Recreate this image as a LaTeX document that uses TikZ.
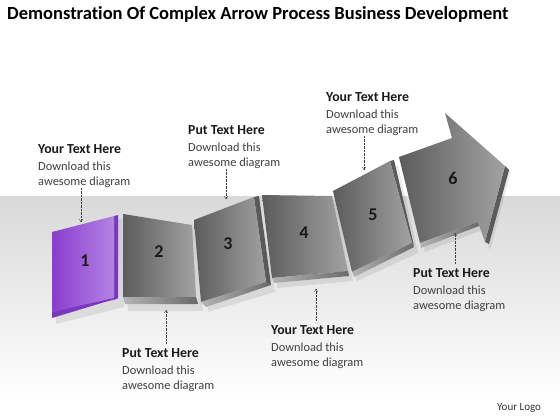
\documentclass[tikz,border=0pt]{standalone}
\usepackage{fontspec}
\setmainfont[Ligatures=NoCommon]{Carlito}
\usetikzlibrary{arrows.meta}
\definecolor{panelL}{HTML}{5C5C5C}
\definecolor{panelR}{HTML}{A2A2A2}
\definecolor{edgeL}{HTML}{B4B4B4}
\definecolor{edgeR}{HTML}{6A6A6A}
\definecolor{violetL}{HTML}{8A3DD0}
\definecolor{violetR}{HTML}{B383E3}
\definecolor{violetD}{HTML}{7A38BC}
\definecolor{bodytext}{HTML}{404040}
\tikzset{
  face/.style={left color=panelL, right color=panelR},
  rim/.style={left color=edgeL, right color=edgeR},
  side/.style={fill=edgeR!85!black},
  drop/.style={fill=black, opacity=0.08},
  num/.style={font=\fontsize{18}{18}\selectfont\bfseries, text=black!90},
  note/.style={anchor=base west, inner sep=0pt, align=left, text=bodytext,
    font=\fontsize{12.4}{15}\selectfont},
  pointer/.style={-{To[length=3pt,width=4pt]}, densely dotted, thin, black!75},
}
\newcommand{\notehead}[1]{{\fontsize{13.8}{15}\selectfont\bfseries\color{black!90}#1}\\[2pt]}
\begin{document}
\begin{tikzpicture}[x=1pt,y=-1pt]
  \useasboundingbox (0,0) rectangle (560,420);
  \fill[white] (0,0) rectangle (560,420);
  \shade[top color=black!15, bottom color=white] (0,196) rectangle (560,400);

  \node[anchor=base west, inner sep=0pt, font=\fontsize{18.5}{18.5}\selectfont\bfseries] (title) at (7,20)
    {Demonstration Of Complex Arrow Process Business Development};

  % shadows
  \fill[drop] (56,236) -- (122,219) -- (124,307) -- (56,324) -- cycle;
  \fill[drop] (127,218) -- (196,229) -- (203,311) -- (128,311) -- cycle;
  \fill[drop] (198,224) -- (259,201) -- (275,292) -- (208,312) -- cycle;
  \fill[drop] (266,199) -- (336,200) -- (353,281) -- (277,288) -- cycle;
  \fill[drop] (337,195) -- (398,165) -- (418,253) -- (357,281) -- cycle;
  \fill[drop] (403,161) -- (456,142) -- (449,117) -- (511,172) -- (490,250) -- (482,230) -- (425,252) -- cycle;

  % panel 1
  \fill[violetD] (114,216) -- (118,215) -- (118,298) -- (114,300) -- cycle;
  \shade[left color=violetL, right color=violetR] (52,232) -- (114,216) -- (114,300) -- (52,312) -- cycle;
  \fill[violetD] (52,312) -- (114,298) -- (118,298) -- (52,318) -- cycle;

  % panel 2
  \shade[face] (123,214) -- (192,225) -- (196,297) -- (123,297) -- cycle;
  \shade[rim] (123,297) -- (196,297) -- (198,304) -- (125,304) -- cycle;

  % panel 3
  \fill[side] (254,197) -- (259,196) -- (271,285) -- (266,282) -- cycle;
  \shade[face] (194,220) -- (254,197) -- (266,282) -- (201,302) -- cycle;
  \shade[rim] (201,302) -- (266,282) -- (271,285) -- (206,307) -- cycle;

  % panel 4
  \shade[face] (262,195) -- (332,196) -- (348,271) -- (272,278) -- cycle;
  \shade[rim] (272,278) -- (348,271) -- (349,276) -- (274,283) -- cycle;

  % panel 5
  \fill[side] (390,161) -- (394,160) -- (414,246) -- (412,243) -- cycle;
  \shade[face] (333,191) -- (390,161) -- (412,243) -- (352,272) -- cycle;
  \shade[rim] (352,272) -- (412,243) -- (414,247) -- (354,277) -- cycle;

  % panel 6 (arrow)
  \fill[side] (505,166) -- (509,170) -- (489,244) -- (485,242) -- cycle;
  \shade[face] (399,157) -- (452,138) -- (445,113) -- (505,166) -- (485,242) -- (478,222) -- (420,243) -- cycle;
  \shade[rim] (420,243) -- (478,222) -- (479,226) -- (421,248) -- cycle;

  \foreach \n/\x/\y in {1/85/261, 2/159/252, 3/228/244, 4/304/233, 5/373/215, 6/453/178}
    \node[num] (num\n) at (\x,\y) {\n};

  % notes (anchor = last line baseline)
  \node[note] (note1) at (38,185.5) {\notehead{Your Text Here}Download this\\awesome diagram};
  \node[note] (note2) at (188,166.5) {\notehead{Put Text Here}Download this\\awesome diagram};
  \node[note] (note3) at (326,133.5) {\notehead{Your Text Here}Download this\\awesome diagram};
  \node[note] (note4) at (122,389.5) {\notehead{Put Text Here}Download this\\awesome diagram};
  \node[note] (note5) at (271,366.5) {\notehead{Your Text Here}Download this\\awesome diagram};
  \node[note] (note6) at (413,309.5) {\notehead{Put Text Here}Download this\\awesome diagram};

  \coordinate (tip1) at (81,222);
  \coordinate (tip2) at (226,199);
  \coordinate (tip3) at (364,170);
  \coordinate (tip4) at (166,310);
  \coordinate (tip5) at (316,289);
  \coordinate (tip6) at (455,233);

  \draw[pointer] (note1.south -| tip1) -- (tip1);
  \draw[pointer] (note2.south -| tip2) -- (tip2);
  \draw[pointer] (note3.south -| tip3) -- (tip3);
  \draw[pointer] ([yshift=5pt]note4.north -| tip4) -- (tip4);
  \draw[pointer] ([yshift=5pt]note5.north -| tip5) -- (tip5);
  \draw[pointer] ([yshift=5pt]note6.north -| tip6) -- (tip6);

  \node[anchor=base west, inner sep=0pt, text=black!80, font=\fontsize{11}{11}\selectfont] (logo) at (497,410) {Your Logo};
\end{tikzpicture}
\end{document}
